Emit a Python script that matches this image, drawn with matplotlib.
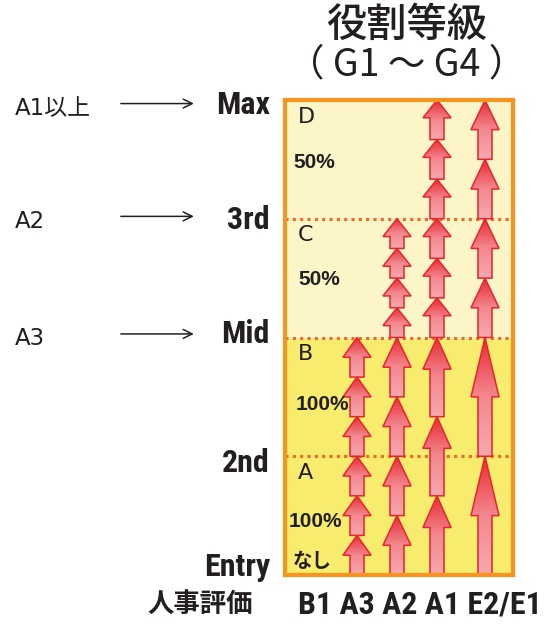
import numpy as np
import matplotlib
matplotlib.use("Agg")
import matplotlib.pyplot as plt
from matplotlib.patches import Polygon
from matplotlib.colors import LinearSegmentedColormap
from matplotlib import font_manager
from matplotlib.font_manager import FontProperties

plt.rcParams['font.family'] = ['Noto Sans CJK JP', 'DejaVu Sans']

# ---- data -------------------------------------------------------------
evaluations = ["B1 A3", "A2", "A1", "E2/E1"]
levels = ["Entry", "2nd", "Mid", "3rd", "Max"]
zones = ["A", "B", "C", "D"]
zone_rates = ["100%", "100%", "50%", "50%"]
entry_note = "なし"
cap_evals = ["A1以上", "A2", "A3"]
cap_targets = ["Max", "3rd", "Mid"]

# raise per step (in grade bands), bottom to top
b1a3_steps = [1/3, 1/3, 1/3, 1/3, 1/3, 1/3]
a2_steps = [1/2, 1/2, 1/2, 1/2, 1/4, 1/4, 1/4, 1/4]
a1_steps = [2/3, 2/3, 2/3, 1/3, 1/3, 1/3, 1/3, 1/3, 1/3]
e_steps = [1, 1, 1/2, 1/2, 1/2, 1/2]
column_steps = [b1a3_steps, a2_steps, a1_steps, e_steps]


# ---- fonts ------------------------------------------------------------
def condensed_bold(size):
    """Pick a narrow bold face for the grade labels, if one is installed."""
    prefs = ["LiberationSansNarrow-Bold", "RobotoCondensed-Bold",
             "DejaVuSansCondensed-Bold", "OpenSans_Condensed-Bold",
             "OpenSansCondensed-Bold", "Roboto-Condensed-Bold"]
    files = [f.fname for f in font_manager.fontManager.ttflist]
    for p in prefs:
        for fn in files:
            if p.lower() in fn.lower().replace(" ", ""):
                return FontProperties(fname=fn, size=size)
    for fn in files:
        low = fn.lower()
        if ("condensed" in low or "narrow" in low) and "bold" in low and "italic" not in low:
            return FontProperties(fname=fn, size=size)
    return FontProperties(family="Liberation Sans", weight="bold", size=size * 0.9)


# ---- style ------------------------------------------------------------
col_x = [1.8, 2.8, 3.8, 5.0]
head_frac = [0.5, 0.5, 0.4, 0.5]
HEAD_W, SHAFT_W = 0.7, 0.35
low_fill = "#F8EC6E"
high_fill = "#FBF5C8"
frame = "#F7941D"
dots = "#F26522"
edge = "#E8232B"
ink = "#231F20"
grad_cmap = LinearSegmentedColormap.from_list("arrow", ["#F6A9B0", "#F38890", "#E82A33"])
grad = np.linspace(0, 1, 256).reshape(-1, 1)

fig = plt.figure(figsize=(5.45, 6.24), dpi=100)
ax = fig.add_axes([285/545, 49/624, 228/545, 475/624])
ax.set_xlim(0, 5.7)
ax.set_ylim(0, 4)
ax.set_xticks([])
ax.set_yticks([])
for s in ax.spines.values():
    s.set_color(frame)
    s.set_linewidth(3)
    s.set_zorder(10)

ax.axhspan(0, 2, color=low_fill, zorder=0)
ax.axhspan(2, 4, color=high_fill, zorder=0)
for y in range(1, len(zones)):
    ax.axhline(y, color=dots, lw=2.2, linestyle=(0, (1, 1.4)), zorder=1)


def draw_arrow(x, y0, y1, frac):
    length = y1 - y0
    hl = max(frac * length, 0.15)
    verts = [(x - SHAFT_W / 2, y0), (x + SHAFT_W / 2, y0),
             (x + SHAFT_W / 2, y1 - hl), (x + HEAD_W / 2, y1 - hl),
             (x, y1), (x - HEAD_W / 2, y1 - hl), (x - SHAFT_W / 2, y1 - hl)]
    poly = Polygon(verts, closed=True, facecolor="none", edgecolor=edge,
                   lw=1.1, joinstyle="miter", zorder=3)
    ax.add_patch(poly)
    im = ax.imshow(grad, extent=(x - HEAD_W / 2, x + HEAD_W / 2, y0, y1),
                   origin="lower", cmap=grad_cmap, aspect="auto",
                   interpolation="bilinear", zorder=2.9)
    im.set_clip_path(poly)


for x, steps, frac in zip(col_x, column_steps, head_frac):
    y = 0.0
    for st in steps:
        draw_arrow(x, y, y + st, frac)
        y += st

ax.set_xlim(0, 5.7)
ax.set_ylim(0, 4)

# zone letters and rates
zone_rate_pos = [(0.75, 0.45), (0.93, 1.44), (0.85, 2.49), (0.72, 3.47)]
for i, (z, r) in enumerate(zip(zones, zone_rates)):
    ax.text(0.33, i + 1 - 0.14, z, fontsize=16, color=ink,
            family=["DejaVu Sans"], ha="left", va="center", zorder=5)
    px, py = zone_rate_pos[i]
    ax.text(px, py, r, fontsize=15, fontweight="bold", color=ink,
            ha="center", va="center", family=["Liberation Sans", "DejaVu Sans"], zorder=5)
ax.text(0.68, 0.11, entry_note, fontsize=14, fontweight="bold", color=ink,
        ha="center", va="center", zorder=5)

# level labels on the left of the frame
ytr = ax.get_yaxis_transform()
level_offsets = [0.07, -0.06, 0.03, -0.01, -0.04]
for i, (lab, off) in enumerate(zip(levels, level_offsets)):
    ax.text(-0.066, i + off, lab, transform=ytr, ha="right", va="center",
            fontproperties=condensed_bold(23), color=ink, clip_on=False)

# evaluation -> ceiling annotations
for ev, tgt in zip(cap_evals, cap_targets):
    lvl = levels.index(tgt)
    ya = lvl + {4: -0.03, 3: 0.02, 2: 0.03}[lvl]
    ax.annotate("", xy=(-0.40, ya), xytext=(-0.72, ya), xycoords=ytr,
                textcoords=ytr,
                arrowprops=dict(arrowstyle="->", color=ink, lw=1.1,
                                mutation_scale=16, shrinkA=0, shrinkB=0),
                annotation_clip=False)
    ax.text(-1.184, ya - 0.04, ev, transform=ytr, ha="left", va="center",
            fontsize=16.5, family=["DejaVu Sans", "Noto Sans CJK JP"],
            color=ink, clip_on=False)

# title
ax.text(0.535, 1.158, "役割等級", transform=ax.transAxes, ha="center",
        va="center", fontsize=29, fontweight="medium", color=ink, clip_on=False)
ax.text(0.535, 1.074, "（ G1 〜 G4 ）", transform=ax.transAxes, ha="center",
        va="center", fontsize=27, color=ink, clip_on=False)

# bottom labels
ax.text(-0.373, -0.063, "人事評価", transform=ax.transAxes, ha="center",
        va="center", fontsize=19, fontweight="bold", color=ink, clip_on=False)
ax.text(1.125, -0.063, " ".join(evaluations), transform=ax.transAxes,
        ha="right", va="center", fontproperties=condensed_bold(23),
        color=ink, clip_on=False)

fig.savefig("out.png", dpi=100, facecolor="white")
